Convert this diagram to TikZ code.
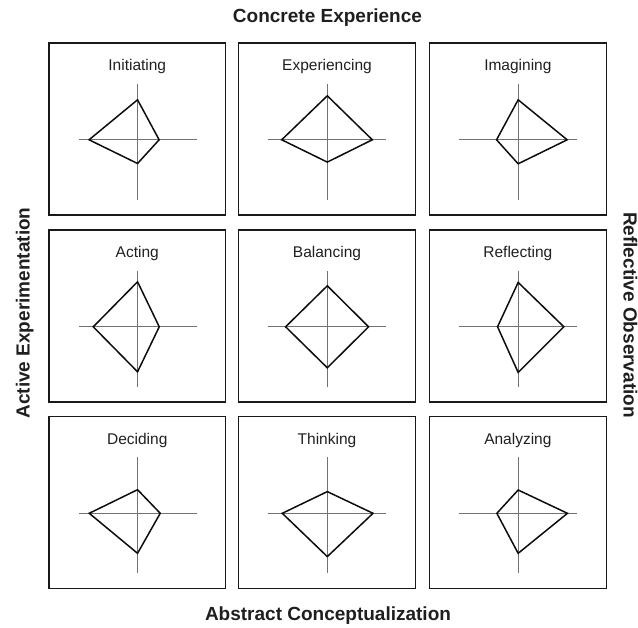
\documentclass[tikz,border=0pt]{standalone}
\usepackage{fontspec}
\setmainfont{Liberation Sans}
\begin{document}
\begin{tikzpicture}[x=1bp,y=-1bp,
  cellbox/.style={draw=black!90, line width=1.2bp, minimum width=176.5bp, minimum height=172bp, inner sep=0pt},
  axisline/.style={draw=black!55, line width=1bp},
  profile/.style={draw=black!95, line width=1.5bp, line join=miter},
  celltitle/.style={font=\fontsize{15.5bp}{18bp}\selectfont, text=black!88, anchor=base, inner sep=0pt},
  dimlabel/.style={font=\fontsize{19bp}{22bp}\selectfont\bfseries, text=black!88, anchor=base, inner sep=0pt}]
\useasboundingbox (0,0) rectangle (638,628);
\foreach \name/\bx/\by/\lab/\u/\r/\d/\l in {
  init/137.25/129/Initiating/40/21.6/23.7/48.5,
  expe/327/129/Experiencing/44/45/22.3/45.6,
  imag/517.85/129/Imagining/40/49/24/21.6,
  acti/137.25/316/Acting/45/21.7/45/44.3,
  bala/327/316/Balancing/41/41.3/41/41.7,
  refl/517.85/316/Reflecting/44.4/45.7/45.6/20.6,
  deci/137.25/502.5/Deciding/23.6/22.7/40/48.3,
  thin/327/502.5/Thinking/21.7/45.7/43.3/45,
  anal/517.85/502.5/Analyzing/23.3/49.3/40/21.3}{
  \node[cellbox] (\name) at (\bx,\by) {};
  \node[celltitle] (\name-title) at (\bx,\by-58.3) {\lab};
  \coordinate (\name-o) at (\bx+0.3,\by+10.8);
  \draw[axisline] ([yshift=56bp]\name-o) -- ([yshift=-60bp]\name-o);
  \draw[axisline] ([xshift=-59bp]\name-o) -- ([xshift=59bp]\name-o);
  \draw[profile] ([yshift=\u bp]\name-o) -- ([xshift=\r bp]\name-o) -- ([yshift=-\d bp]\name-o) -- ([xshift=-\l bp]\name-o) -- cycle;
}
\node[dimlabel] (ce) at (327.5,22.5) {Concrete Experience};
\node[dimlabel] (ac) at (328,620) {Abstract Conceptualization};
\node[dimlabel, rotate=90] (ae) at (29.5,313) {Active Experimentation};
\node[dimlabel, rotate=-90] (ro) at (623.5,315) {Reflective Observation};
\end{tikzpicture}
\end{document}
